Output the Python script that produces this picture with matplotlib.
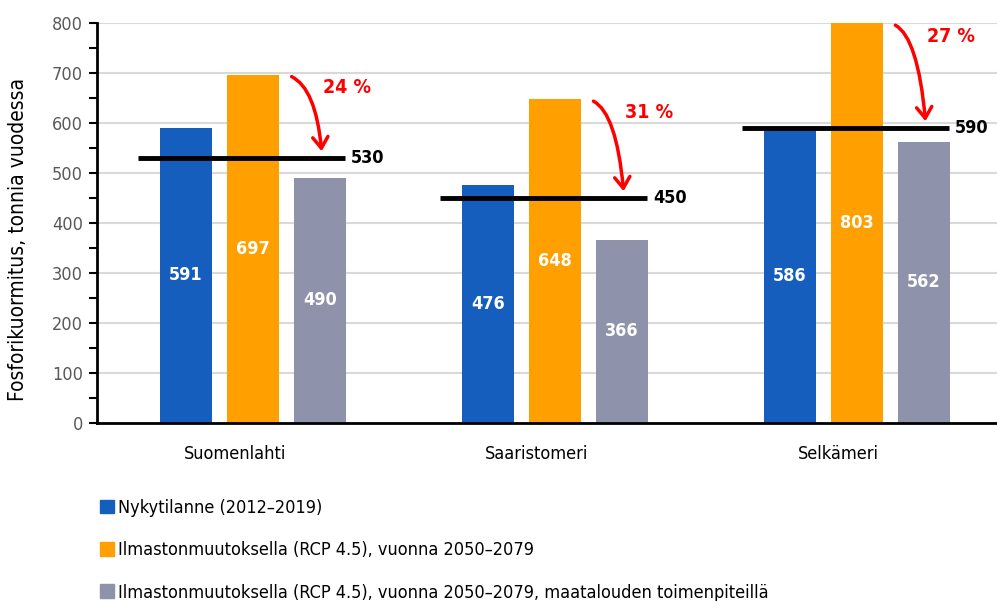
import numpy as np
import matplotlib
matplotlib.use('Agg')
import matplotlib.pyplot as plt
from matplotlib.patches import Patch

# tiedot
alueet = ['Suomenlahti', 'Saaristomeri', 'Selkämeri']
nykytila = [591, 476, 586]
ilmasto = [697, 648, 803]
toimenpiteet = [490, 366, 562]
tavoite = [530, 450, 590]
vahennys = ['24 %', '31 %', '27 %']
sarjat = ['Nykytilanne (2012–2019)',
          'Ilmastonmuutoksella (RCP 4.5), vuonna 2050–2079',
          'Ilmastonmuutoksella (RCP 4.5), vuonna 2050–2079, maatalouden toimenpiteillä']

plt.rcParams['font.family'] = ['DejaVu Sans']
plt.rcParams['font.stretch'] = 'condensed'

varit = ['#155ebe', '#ffa000', '#8e93ab']
x = np.arange(len(alueet))
w = 0.172
step = 0.222

fig = plt.figure(figsize=(9.97, 6.01), dpi=100)
ax = fig.add_axes([0.0973, 0.2962, 0.9027, 0.6655])

for i, (arvot, vari) in enumerate(zip([nykytila, ilmasto, toimenpiteet], varit)):
    pos = x + (i - 1) * step
    ax.bar(pos, arvot, width=w, color=vari, zorder=2)
    for p, v in zip(pos, arvot):
        ax.text(p, min(v, 800) / 2, str(v), ha='center', va='center', color='white',
                fontsize=13, fontweight='bold', zorder=4)

# tavoiteviivat
for xi, t in zip(x, tavoite):
    ax.plot([xi - 0.381, xi + 0.305], [t, t], color='black', lw=3.5, zorder=3,
            solid_capstyle='butt')
    ax.text(xi + 0.325, t, str(t), ha='left', va='center', fontsize=13,
            fontweight='bold', color='black', zorder=4)

# nuolet
for xi, v, t, txt in zip(x, ilmasto, tavoite, vahennys):
    alku = min(v, 800)
    ax.annotate('', xy=(xi + 0.228, t + 8), xytext=(xi + 0.119, alku - 2),
                arrowprops=dict(arrowstyle='->,head_length=0.8,head_width=0.55',
                                color='#ff0000', lw=2.5,
                                connectionstyle='angle3,angleA=-20,angleB=95'),
                zorder=5, annotation_clip=False)
    ax.text(xi + 0.31, alku - 26, txt, ha='center', va='center', color='#ff0000',
            fontsize=14, fontweight='bold', zorder=5)

ax.set_ylim(0, 800)
ax.set_xlim(-0.517, 2.464)
ax.set_yticks(np.arange(0, 801, 100))
ax.set_yticks(np.arange(50, 800, 100), minor=True)
ax.yaxis.grid(True, color='#d9d9d9', lw=1.5, zorder=0)
ax.set_axisbelow(True)
ax.tick_params(axis='y', which='both', direction='out', length=6, width=1.5,
               colors='black', labelcolor='#595959', labelsize=13, pad=4)
ax.set_xticks(x - 0.06)
ax.set_xticklabels(alueet)
ax.tick_params(axis='x', length=0, labelsize=13, pad=16)
for s in ['top', 'right']:
    ax.spines[s].set_visible(False)
ax.spines['left'].set_linewidth(2)
ax.spines['bottom'].set_linewidth(2)
ax.set_ylabel('Fosforikuormitus, tonnia vuodessa', fontsize=15)
ax.yaxis.set_label_coords(-0.077, 0.46)

kahvat = [Patch(color=c) for c in varit]
fig.legend(kahvat, sarjat, loc='upper left', bbox_to_anchor=(0.093, 0.182), frameon=False,
           fontsize=13, handlelength=0.8, handleheight=0.8, handletextpad=0.2,
           labelspacing=1.35, borderaxespad=0)

fig.savefig('out.png', dpi=100)
